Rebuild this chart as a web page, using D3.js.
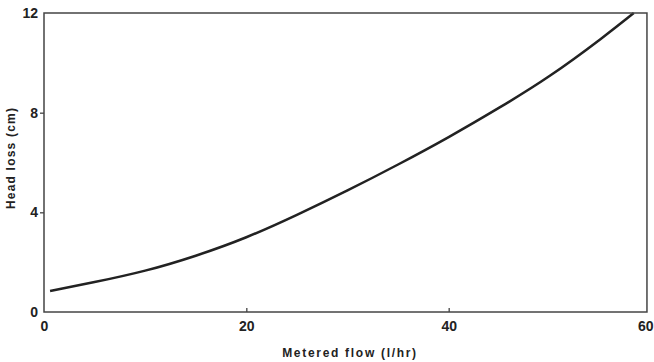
<!DOCTYPE html>
<html>
	<head>
		<title>head loss</title>
		<style>
			body { margin: 0; background: #fff; }
			svg { display: block; }
			.tick text { font-family: "Liberation Sans", Arial, sans-serif; font-weight: bold; font-size: 14px; fill: #222; }
			.tick line { stroke: #333; stroke-width: 1.2; }
			.axis-title { font-family: "Liberation Sans", Arial, sans-serif; font-weight: bold; font-size: 12px; fill: #222; letter-spacing: 1.2px; }
			.axis-title.x { letter-spacing: 1.7px; }
			.frame { fill: none; stroke: #444; stroke-width: 1.5; }
			.curve { fill: none; stroke: #222; stroke-width: 2.5; }
		</style>
		<script src="https://d3js.org/d3.v7.min.js"></script>
	</head>
	<body>
		<svg id=chart width=654 height=362></svg>
		<script>
			// values
			const flow = [0.6, 5, 10, 15, 20, 25, 30, 35, 40, 45, 50, 55, 58.3];
			const headLoss = [0.84, 1.2, 1.66, 2.26, 3.0, 3.9, 4.88, 5.92, 7.02, 8.2, 9.48, 10.95, 12.0];
			const xTicks = [0, 20, 40, 60];
			const yTicks = [0, 4, 8, 12];

			const svg = d3.select('#chart');
			const plotLeft = 44, plotTop = 13, plotBottom = 312;

			const x = d3.scaleLinear().domain([0, 60]).range([plotLeft, 651]);
			const y = d3.scaleLinear().domain([0, 12]).range([plotBottom, plotTop]);
			const plotRight = x(59.6);

			const line = d3.line()
				.x((d, i) => x(flow[i]))
				.y(d => y(d))
				.curve(d3.curveNatural);

			svg.append('path')
				.attr('class', 'curve')
				.attr('d', line(headLoss));

			// x axis: ticks point up into the plot
			const gx = svg.append('g')
				.attr('transform', `translate(0,${plotBottom})`)
				.call(d3.axisBottom(x).tickValues(xTicks).tickSize(-4).tickPadding(9).tickFormat(d3.format('d')));
			gx.select('.domain').remove();
			gx.selectAll('.tick').filter(d => d == 0 || d == 60).select('line').remove();
			// last label sits at the page edge, keep it inside
			gx.selectAll('.tick').filter(d => d == 60).select('text').attr('text-anchor', 'end').attr('x', 2);

			const gy = svg.append('g')
				.attr('transform', `translate(${plotLeft},0)`)
				.call(d3.axisLeft(y).tickValues(yTicks).tickSize(4).tickPadding(2).tickFormat(d3.format('d')));
			gy.select('.domain').remove();
			gy.selectAll('.tick').filter(d => d == 0 || d == 12).select('line').remove();

			svg.append('rect')
				.attr('class', 'frame')
				.attr('x', plotLeft)
				.attr('y', plotTop)
				.attr('width', plotRight - plotLeft)
				.attr('height', plotBottom - plotTop);

			svg.append('text')
				.attr('class', 'axis-title x')
				.attr('x', 350)
				.attr('y', 357)
				.attr('text-anchor', 'middle')
				.text('Metered flow  (l/hr)');

			svg.append('text')
				.attr('class', 'axis-title')
				.attr('transform', 'translate(15,158) rotate(-90)')
				.attr('text-anchor', 'middle')
				.text('Head loss (cm)');
		</script>
	</body>
</html>
